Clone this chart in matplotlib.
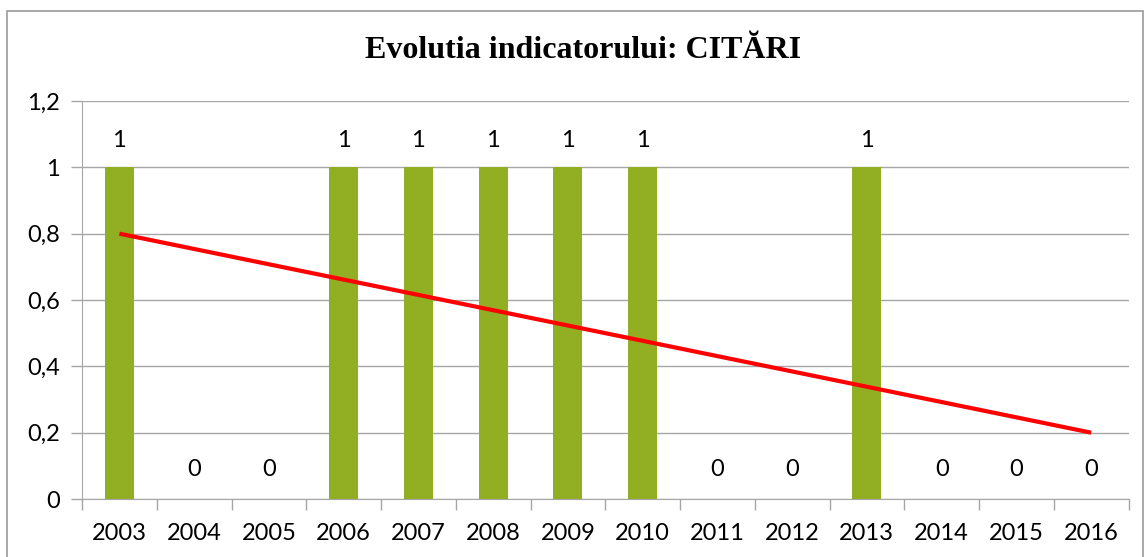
import numpy as np
import matplotlib
matplotlib.use("Agg")
import matplotlib.pyplot as plt
from matplotlib.patches import Rectangle

# date
years = ["2003", "2004", "2005", "2006", "2007", "2008", "2009",
         "2010", "2011", "2012", "2013", "2014", "2015", "2016"]
citari = [1, 0, 0, 1, 1, 1, 1, 1, 0, 0, 1, 0, 0, 0]
y_ticks = [0, 0.2, 0.4, 0.6, 0.8, 1.0, 1.2]
y_labels = ["0", "0,2", "0,4", "0,6", "0,8", "1", "1,2"]
title = "Evolutia indicatorului: CITĂRI"

bar_color = "#92AE22"
grid_color = "#A6A6A6"
tick_font = "Lato"
fs = 17

fig = plt.figure(figsize=(11.45, 5.57), dpi=100)
ax = fig.add_axes([82/1145, 1 - 499/557, (1128.5 - 82)/1145, (499 - 101)/557])

x = np.arange(len(years))
ax.bar(x, citari, width=0.39, color=bar_color, zorder=2)

# linia de trend (regresie liniara)
coef = np.polyfit(x, citari, 1)
ax.plot(x[[0, -1]], np.polyval(coef, x[[0, -1]]), color="#FF0000", lw=3,
        solid_capstyle="butt", zorder=3)

# etichete de date
for xi, v in zip(x, citari):
    ax.annotate(str(v), (xi, v), xytext=(0, 27 if v else 29),
                textcoords="offset pixels", ha="center", va="center",
                fontsize=fs, family=tick_font)

ax.set_xlim(-0.5, len(years) - 0.5)
ax.set_ylim(0, 1.2)
ax.set_yticks(y_ticks)
ax.set_yticklabels(y_labels, fontsize=fs, family=tick_font)
ax.set_xticks(x)
ax.set_xticklabels(years, fontsize=fs, family=tick_font)
ax.set_xticks(np.arange(len(years) + 1) - 0.5, minor=True)
ax.tick_params(axis="x", which="major", length=0, pad=17)
ax.tick_params(axis="x", which="minor", length=8, color=grid_color, width=1)
ax.tick_params(axis="y", length=8, color=grid_color, width=1, pad=8)

ax.grid(axis="y", color=grid_color, lw=1, zorder=0)
ax.set_axisbelow(True)
for s in ["top", "right"]:
    ax.spines[s].set_visible(False)
ax.spines["left"].set_color(grid_color)
ax.spines["bottom"].set_color(grid_color)

fig.text(583/1145, 1 - 50/557, title, ha="center", va="center",
         fontsize=23, fontweight="bold", family="Liberation Serif")

# chenarul diagramei
fig.patches.append(Rectangle((7/1145, -0.01), (1143 - 7)/1145, 1 - 11/557 + 0.01,
                             transform=fig.transFigure, fill=False,
                             edgecolor="#9B9B9B", lw=1.2))

fig.savefig("out.png", dpi=100)
